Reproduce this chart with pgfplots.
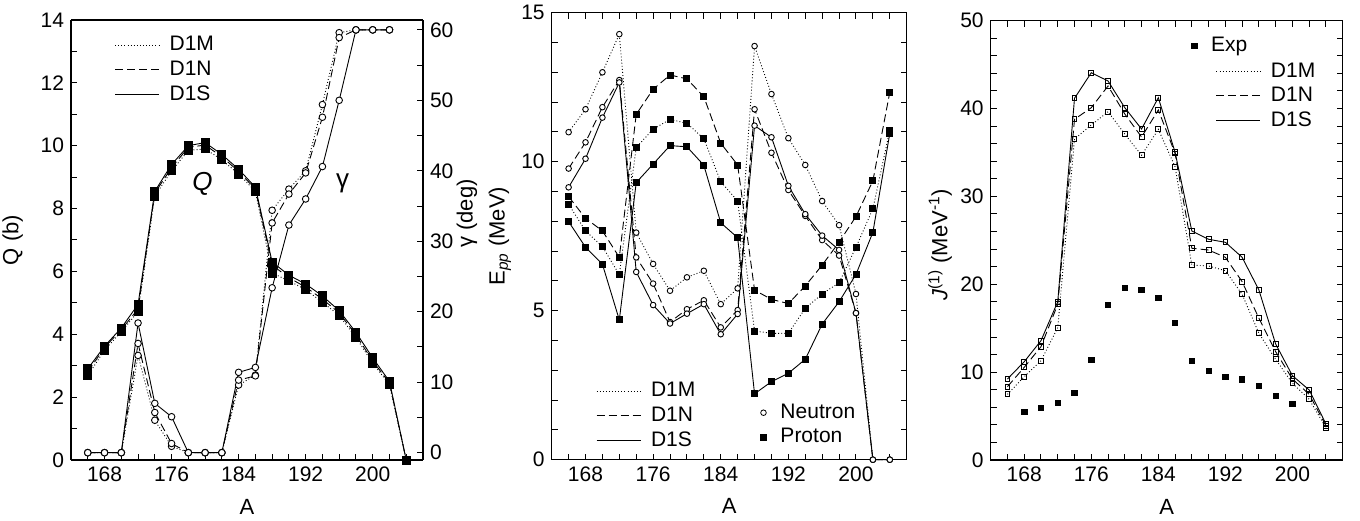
\documentclass[border=0pt]{standalone}
\usepackage{fontspec}
\setmainfont{Liberation Sans}
\setsansfont{Liberation Sans}
\usepackage{pgfplots}
\pgfplotsset{compat=1.18}
\pgfplotsset{
  every axis/.append style={
    scale only axis, anchor=south west, clip=false,
    tick align=inside,
    /pgf/number format/assume math mode=true,
    tick label style={font=\fontsize{10.5}{12}\selectfont},
    label style={font=\fontsize{11}{13}\selectfont},
    major tick length=3pt, minor tick length=3pt,
    axis line style={line width=0.6pt},
    every tick/.style={line width=0.5pt, black},
    legend style={draw=none, fill=none, inner sep=0pt, row sep=1.5pt,
      column sep=4pt, nodes={inner sep=1pt}, font=\fontsize{10.5}{12}\selectfont},
    legend cell align=left,
  },
  pM/.style={black, line width=0.45pt, dash pattern=on 0.45pt off 1.1pt},
  pN/.style={black, line width=0.45pt, dash pattern=on 4pt off 2pt},
  pS/.style={black, line width=0.45pt, solid},
  lineleg/.style={legend image code/.code={\draw[##1] (0pt,0pt) -- (22pt,0pt);}},
}
\begin{document}
\begin{tikzpicture}
\useasboundingbox (0pt,0pt) rectangle (680pt,260pt);
% ---------------- Panel 1 : Q ----------------
\begin{axis}[at={(35.5pt,30pt)}, width=176pt, height=220pt,
  xmin=164, xmax=206, ymin=0, ymax=14,
  xtick={168,176,...,200}, minor xtick={166,168,...,204}, xtick pos=bottom,
  ytick={0,2,...,14}, minor ytick={1,3,...,13}, axis y line*=left,
  xlabel={A}, ylabel={Q (b)},
  xlabel style={at={(axis description cs:0.5,-0.106)}, anchor=center},
  ylabel style={at={(axis description cs:-0.166,0.5)}, anchor=center},
  lineleg,
  legend style={at={(axis description cs:0.123,0.968)}, anchor=north west},
]
\addlegendimage{pM}\addlegendentry{D1M}
\addlegendimage{pN}\addlegendentry{D1N}
\addlegendimage{pS}\addlegendentry{D1S}
\addplot[pM, forget plot, mark=square*, mark size=2pt, mark options={solid, fill=black}] coordinates {
(166,2.68)(168,3.50)(170,4.08)(172,4.72)(174,8.40)(176,9.20)(178,9.85)(180,9.90)(182,9.55)(184,9.10)(186,8.55)(188,5.95)(190,5.70)(192,5.42)(194,5.02)(196,4.60)(198,3.90)(200,3.08)(202,2.40)(204,0)};
\addplot[pN, forget plot, mark=square*, mark size=2pt, mark options={solid, fill=black}] coordinates {
(166,2.80)(168,3.58)(170,4.15)(172,4.80)(174,8.50)(176,9.30)(178,9.95)(180,10.02)(182,9.65)(184,9.18)(186,8.62)(188,6.20)(190,5.80)(192,5.50)(194,5.12)(196,4.68)(198,3.98)(200,3.15)(202,2.45)(204,0)};
\addplot[pS, forget plot, mark=square*, mark size=2pt, mark options={solid, fill=black}] coordinates {
(166,2.90)(168,3.62)(170,4.20)(172,4.95)(174,8.55)(176,9.40)(178,10.00)(180,10.10)(182,9.72)(184,9.25)(186,8.68)(188,6.30)(190,5.88)(192,5.60)(194,5.22)(196,4.75)(198,4.06)(200,3.25)(202,2.50)(204,0)};
\node[font=\fontsize{13}{15}\selectfont\itshape] at (axis cs:179.7,8.8) {Q};
\node[font=\fontsize{13}{15}\selectfont] at (axis cs:196.4,8.8) {γ};
\end{axis}
\begin{axis}[at={(35.5pt,30pt)}, width=176pt, height=220pt,
  xmin=164, xmax=206, ymin=-1.04, ymax=61.4,
  axis x line=none, axis y line*=right,
  ytick={0,10,...,60}, minor ytick={5,15,...,55},
  ylabel={γ (deg)},
  ylabel style={at={(axis description cs:1.125,0.56)}, anchor=center, rotate=0},
]
\addplot[pM, mark=*, mark size=1.65pt, mark options={solid, fill=white}] coordinates {
(166,0)(168,0)(170,0)(172,13.8)(174,4.6)(176,0.9)(178,0)(180,0)(182,0)(184,9.6)(186,11.0)(188,34.4)(190,37.4)(192,40.0)(194,49.4)(196,59.6)(198,60)(200,60)(202,60)};
\addplot[pN, mark=*, mark size=1.65pt, mark options={solid, fill=white}] coordinates {
(166,0)(168,0)(170,0)(172,15.5)(174,5.7)(176,1.3)(178,0)(180,0)(182,0)(184,10.3)(186,10.9)(188,32.6)(190,36.7)(192,39.7)(194,47.6)(196,58.9)(198,60)(200,60)(202,60)};
\addplot[pS, mark=*, mark size=1.65pt, mark options={solid, fill=white}] coordinates {
(166,0)(168,0)(170,0)(172,18.4)(174,7.0)(176,5.1)(178,0)(180,0)(182,0)(184,11.4)(186,12.1)(188,23.4)(190,32.3)(192,36.0)(194,40.6)(196,50.0)(198,60)(200,60)(202,60)};
\end{axis}
% ---------------- Panel 2 : Epp ----------------
\begin{axis}[at={(275.85pt,30.15pt)}, width=177.5pt, height=223.5pt,
  xmin=164, xmax=206, ymin=0, ymax=15,
  xtick={168,176,...,200}, minor xtick={166,168,...,204},
  ytick={0,5,10,15}, minor ytick={1,2,3,4,6,7,8,9,11,12,13,14},
  xlabel={A}, ylabel={E\textsubscript{\textit{pp}} (MeV)},
  xlabel style={at={(axis description cs:0.5,-0.104)}, anchor=center},
  ylabel style={at={(axis description cs:-0.146,0.5)}, anchor=center},
  lineleg,
  legend style={at={(axis description cs:0.124,0.178)}, anchor=north west},
]
\addlegendimage{pM}\addlegendentry{D1M}
\addlegendimage{pN}\addlegendentry{D1N}
\addlegendimage{pS}\addlegendentry{D1S}
% neutrons
\addplot[pM, forget plot, mark=*, mark size=1.4pt, mark options={solid, fill=white}] coordinates {
(166,10.99)(168,11.76)(170,13.00)(172,14.28)(174,7.62)(176,6.57)(178,5.67)(180,6.12)(182,6.34)(184,5.22)(186,5.75)(188,13.88)(190,12.27)(192,10.79)(194,9.89)(196,8.68)(198,7.87)(200,5.56)(202,0)(204,0)};
\addplot[pN, forget plot, mark=*, mark size=1.4pt, mark options={solid, fill=white}] coordinates {
(166,9.77)(168,10.65)(170,11.83)(172,12.74)(174,6.79)(176,5.91)(178,4.62)(180,5.05)(182,5.35)(184,4.44)(186,5.02)(188,11.76)(190,10.30)(192,9.05)(194,8.18)(196,7.37)(198,6.85)(200,4.92)(202,0)(204,0)};
\addplot[pS, forget plot, mark=*, mark size=1.4pt, mark options={solid, fill=white}] coordinates {
(166,9.14)(168,10.10)(170,11.48)(172,12.66)(174,6.30)(176,5.19)(178,4.57)(180,4.90)(182,5.22)(184,4.21)(186,4.89)(188,11.21)(190,10.82)(192,9.19)(194,8.24)(196,7.52)(198,7.04)(200,4.92)(202,0)(204,0)};
% protons
\addplot[pM, forget plot, mark=square*, mark size=1.5pt, mark options={solid, fill=black}] coordinates {
(166,8.57)(168,7.68)(170,7.15)(172,6.21)(174,10.48)(176,11.09)(178,11.42)(180,11.29)(182,10.77)(184,9.33)(186,8.68)(188,4.32)(190,4.24)(192,4.24)(194,5.08)(196,5.56)(198,5.94)(200,7.13)(202,8.42)(204,11.06)};
\addplot[pN, forget plot, mark=square*, mark size=1.5pt, mark options={solid, fill=black}] coordinates {
(166,8.83)(168,8.10)(170,7.68)(172,6.79)(174,11.59)(176,12.43)(178,12.91)(180,12.78)(182,12.18)(184,10.62)(186,9.89)(188,5.69)(190,5.38)(192,5.24)(194,5.83)(196,6.53)(198,7.30)(200,8.16)(202,9.36)(204,12.33)};
\addplot[pS, forget plot, mark=square*, mark size=1.5pt, mark options={solid, fill=black}] coordinates {
(166,7.99)(168,7.13)(170,6.56)(172,4.69)(174,9.30)(176,9.92)(178,10.54)(180,10.50)(182,9.88)(184,7.95)(186,7.45)(188,2.21)(190,2.62)(192,2.90)(194,3.37)(196,4.55)(198,5.30)(200,6.22)(202,7.63)(204,10.95)};
\end{axis}
\begin{axis}[at={(275.85pt,30.15pt)}, width=177.5pt, height=223.5pt,
  xmin=164, xmax=206, ymin=0, ymax=15, hide axis,
  legend style={at={(axis description cs:0.587,0.13)}, anchor=north west, column sep=6pt},
]
\addlegendimage{only marks, mark=*, mark size=1.4pt, mark options={fill=white}}\addlegendentry{Neutron}
\addlegendimage{only marks, mark=square*, mark size=1.5pt, mark options={fill=black}}\addlegendentry{Proton}
\end{axis}
% ---------------- Panel 3 : J1 ----------------
\begin{axis}[at={(495.35pt,30pt)}, width=176pt, height=219.65pt,
  xmin=164, xmax=206, ymin=0, ymax=50,
  xtick={168,176,...,200}, minor xtick={166,168,...,204},
  ytick={0,10,...,50}, minor ytick={2,4,6,8,12,14,16,18,22,24,26,28,32,34,36,38,42,44,46,48},
  xlabel={A}, ylabel={\textit{J}\textsuperscript{(1)} (MeV\textsuperscript{-1})},
  xlabel style={at={(axis description cs:0.5,-0.106)}, anchor=center},
  ylabel style={at={(axis description cs:-0.144,0.49)}, anchor=center},
  lineleg,
  legend style={at={(axis description cs:0.639,0.91)}, anchor=north west},
]
\addlegendimage{pM}\addlegendentry{D1M}
\addlegendimage{pN}\addlegendentry{D1N}
\addlegendimage{pS}\addlegendentry{D1S}
\addplot[pM, forget plot, mark=square, mark size=1.2pt, mark options={solid, fill=white}] coordinates {
(166,7.48)(168,9.49)(170,11.30)(172,15.06)(174,36.54)(176,38.13)(178,39.64)(180,37.10)(182,34.68)(184,37.64)(186,33.38)(188,22.19)(190,22.08)(192,21.55)(194,18.86)(196,14.42)(198,11.46)(200,8.73)(202,6.91)(204,3.68)};
\addplot[pN, forget plot, mark=square, mark size=1.2pt, mark options={solid, fill=white}] coordinates {
(166,8.35)(168,10.55)(170,12.90)(172,17.72)(174,38.78)(176,40.10)(178,42.57)(180,39.38)(182,36.76)(184,39.84)(186,34.90)(188,24.10)(190,23.90)(192,23.07)(194,20.30)(196,16.13)(198,12.33)(200,9.22)(202,7.48)(204,3.90)};
\addplot[pS, forget plot, mark=square, mark size=1.2pt, mark options={solid, fill=white}] coordinates {
(166,9.22)(168,11.19)(170,13.58)(172,18.02)(174,41.17)(176,44.08)(178,43.14)(180,40.10)(182,37.67)(184,41.24)(186,35.02)(188,26.06)(190,25.12)(192,24.78)(194,23.07)(196,19.35)(198,13.20)(200,9.60)(202,7.97)(204,4.10)};
\addplot[only marks, forget plot, mark=square*, mark size=1.35pt, mark options={fill=black}] coordinates {
(168,5.50)(170,5.95)(172,6.52)(174,7.66)(176,11.38)(178,17.64)(180,19.61)(182,19.35)(184,18.47)(186,15.63)(188,11.30)(190,10.16)(192,9.49)(194,9.18)(196,8.46)(198,7.32)(200,6.41)};
\end{axis}
\begin{axis}[at={(495.35pt,30pt)}, width=176pt, height=219.65pt,
  xmin=164, xmax=206, ymin=0, ymax=50, hide axis,
  legend style={at={(axis description cs:0.57,0.968)}, anchor=north west, column sep=6pt},
]
\addlegendimage{only marks, mark=square*, mark size=1.35pt, mark options={fill=black}}\addlegendentry{Exp}
\end{axis}
\end{tikzpicture}
\end{document}
